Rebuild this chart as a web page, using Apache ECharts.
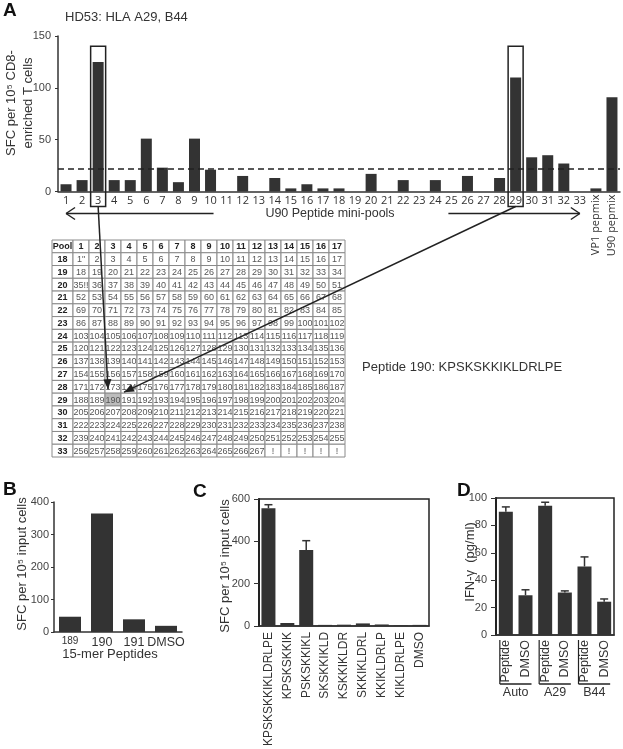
<!DOCTYPE html>
<html><head><meta charset="utf-8">
<script src="https://cdn.jsdelivr.net/npm/echarts@6/dist/echarts.min.js"></script>
<style>html,body{margin:0;padding:0;background:#fff}#c{width:623px;height:749px}</style>
</head><body><div id="c"></div>
<script>
// ---------- Panel A data ----------
const poolCategories = ['1','2','3','4','5','6','7','8','9','10','11','12','13','14','15','16','17','18','19','20','21','22','23','24','25','26','27','28','29','30','31','32','33','VP1 pepmix','U90 pepmix'];
const poolSFC = [7,11,125,11,11,51,23,9,51,21,0,15,0,13,3,7,3,3,0,17,0,11,0,11,0,15,0,13,110,33,35,27,0,3,91];
const thresholdSFC = 22;
const boxedPools = ['3','29'];
const boxTopSFC = 140;
const aTitle = 'HD53: HLA A29, B44';
const aYName = 'SFC per 10\u2075 CD8-\nenriched T cells';
const aXName = 'U90 Peptide mini-pools';
const aTicks = [0,50,100,150];

// ---------- Table (peptide matrix) ----------
const tableColumns = ['1','2','3','4','5','6','7','8','9','10','11','12','13','14','15','16','17'];
const tableRowNames = ['18','19','20','21','22','23','24','25','26','27','28','29','30','31','32','33'];
const tableRows = [
  '1" 2 3 4 5 6 7 8 9 10 11 12 13 14 15 16 17',
  '18 19 20 21 22 23 24 25 26 27 28 29 30 31 32 33 34',
  '35!! 36 37 38 39 40 41 42 43 44 45 46 47 48 49 50 51',
  '52 53 54 55 56 57 58 59 60 61 62 63 64 65 66 67 68',
  '69 70 71 72 73 74 75 76 77 78 79 80 81 82 83 84 85',
  '86 87 88 89 90 91 92 93 94 95 96 97 98 99 100 101 102',
  '103 104 105 106 107 108 109 110 111 112 113 114 115 116 117 118 119',
  '120 121 122 123 124 125 126 127 128 129 130 131 132 133 134 135 136',
  '137 138 139 140 141 142 143 144 145 146 147 148 149 150 151 152 153',
  '154 155 156 157 158 159 160 161 162 163 164 165 166 167 168 169 170',
  '171 172 173 174 175 176 177 178 179 180 181 182 183 184 185 186 187',
  '188 189 190 191 192 193 194 195 196 197 198 199 200 201 202 203 204',
  '205 206 207 208 209 210 211 212 213 214 215 216 217 218 219 220 221',
  '222 223 224 225 226 227 228 229 230 231 232 233 234 235 236 237 238',
  '239 240 241 242 243 244 245 246 247 248 249 250 251 252 253 254 255',
  '256 257 258 259 260 261 262 263 264 265 266 267 ! ! ! ! !'
];
const highlightPeptide = '190';
const peptideNote = 'Peptide 190: KPSKSKKIKLDRLPE';

// ---------- Panel B ----------
const bCategories = ['189','190','191','DMSO'];
const bSFC = [47,365,39,19];
const bTicks = [0,100,200,300,400];

// ---------- Panel C ----------
const cCategories = ['KPSKSKKIKLDRLPE','KPSKSKKIK','PSKSKKIKL','SKSKKIKLD','KSKKIKLDR','SKKIKLDRL','KKIKLDRLP','KIKLDRLPE','DMSO'];
const cSFC = [556,14,359,5,6,12,7,3,5];
const cErr = [17,0,44,0,0,0,0,0,0];
const cTicks = [0,200,400,600];

// ---------- Panel D ----------
const dConditions = ['Peptide','DMSO','Peptide','DMSO','Peptide','DMSO'];
const dGroups = ['Auto','Auto','A29','A29','B44','B44'];
const dIFN = [90,29,94.4,31,50,24.3];
const dErr = [3.5,4,2.5,1.2,7,2];
const dTicks = [0,20,40,60,80,100];

// ---------- build ----------
const FONT = '"Liberation Sans", Arial, sans-serif';
const INK = '#333';
const chart = echarts.init(document.getElementById('c'), null, {renderer:'canvas'});

const tableYCats = ['Pool'].concat(tableRowNames);
// pool column cells
const poolCells = [], poolData = [];
tableYCats.forEach((r) => { poolData.push(['Pool', r]); poolCells.push({text: r, bold: true}); });
// main cells
const mainCells = [], mainData = [];
tableColumns.forEach(c => { mainData.push([c, 'Pool']); mainCells.push({text: c, bold: true}); });
tableRows.forEach((rowStr, ri) => {
  rowStr.split(' ').forEach((t, ci) => {
    mainData.push([tableColumns[ci], tableRowNames[ri]]);
    mainCells.push({text: t, bold: false, hl: t === highlightPeptide});
  });
});
function cellRenderer(cells) {
  return function (params, api) {
    const c = api.coord([api.value(0), api.value(1)]);
    const s = api.size([1, 1]);
    const info = cells[params.dataIndex];
    return {type:'group', children:[
      {type:'rect', shape:{x:c[0]-s[0]/2, y:c[1]-s[1]/2, width:s[0], height:s[1]},
       style:{fill: info.hl ? '#bcbcbc' : '#fff', stroke:'#8a8a8a', lineWidth:1}},
      {type:'text', x:c[0], y:c[1]+0.5,
       style:{text: info.text, align:'center', verticalAlign:'middle', textAlign:'center', textVerticalAlign:'middle',
              fill: info.bold ? '#222' : '#555', font: (info.bold ? 'bold ' : '') + '9px ' + FONT}}
    ]};
  };
}
function errSeries(xi, yi, means, errs, cap) {
  return {type:'custom', xAxisIndex:xi, yAxisIndex:yi, z:1, silent:true,
    data: means.map((m, i) => [i, m, m + errs[i], errs[i]]),
    renderItem(params, api) {
      if (!api.value(3)) return null;
      const base = api.coord([api.value(0), api.value(1)]);
      const top = api.coord([api.value(0), api.value(2)]);
      return {type:'group', children:[
        {type:'line', shape:{x1:top[0], y1:base[1], x2:top[0], y2:top[1]}, style:{stroke:INK, lineWidth:1.5}},
        {type:'line', shape:{x1:top[0]-cap/2, y1:top[1], x2:top[0]+cap/2, y2:top[1]}, style:{stroke:INK, lineWidth:1.5}}
      ]};
    }};
}
const yLab = (m) => ({fontFamily:FONT, fontSize:11, color:'#444', margin:m});

const option = {
  animation:false,
  backgroundColor:'#fff',
  textStyle:{fontFamily:FONT},
  grid:[
    {left:58, top:36, width:562, height:155.5},                 // A
    {left:52, top:240, width:21, height:217},                   // table pool col
    {left:73, top:240, width:272, height:217},                  // table main
    {left:54, top:502, width:128, height:130},                  // B
    {left:259, top:499, width:170, height:137, show:true, borderColor:'#222', borderWidth:1.5, backgroundColor:'transparent'}, // C
    {left:496, top:498, width:118, height:137, show:true, borderColor:'#222', borderWidth:1.5, backgroundColor:'transparent'}  // D
  ],
  xAxis:[
    {type:'category', gridIndex:0, data:poolCategories,
     axisLine:{lineStyle:{color:INK, width:1.5}}, axisTick:{show:false},
     axisLabel:{interval:0, margin:4, fontFamily:'"Open Sans", sans-serif', fontSize:11, color:'#333',
                formatter:v => v.indexOf('pepmix') >= 0 ? '' : v}},
    {type:'category', gridIndex:0, data:poolCategories, position:'bottom',
     axisLine:{show:false}, axisTick:{show:false},
     axisLabel:{interval:0, rotate:90, margin:3, fontFamily:'"Open Sans", sans-serif', fontSize:11, color:'#333',
                formatter:v => v.indexOf('pepmix') >= 0 ? v : ''}},
    {type:'category', gridIndex:1, data:['Pool'], show:false},
    {type:'category', gridIndex:2, data:tableColumns, show:false},
    {type:'category', gridIndex:3, data:bCategories,
     axisLine:{lineStyle:{color:INK, width:1.5}}, axisTick:{show:false},
     axisLabel:{interval:0, margin:4, color:'#333', fontFamily:FONT,
       formatter:(v, i) => i === 0 ? '{s|' + v + '}' : '{n|' + v + '}',
       rich:{s:{fontSize:10, fontFamily:FONT, color:'#333', padding:[0,0,2,0]}, n:{fontSize:12.5, fontFamily:FONT, color:'#333'}}}},
    {type:'category', gridIndex:4, data:cCategories,
     axisLine:{lineStyle:{color:INK, width:1.5}}, axisTick:{show:false},
     axisLabel:{interval:0, rotate:90, margin:6, fontSize:12, fontFamily:FONT, color:'#333'}},
    {type:'category', gridIndex:5, data:dConditions.map((c, i) => dGroups[i] + '|' + c),
     axisLine:{lineStyle:{color:INK, width:1.5}}, axisTick:{show:false},
     axisLabel:{interval:0, rotate:90, margin:5, fontSize:12.5, fontFamily:FONT, color:'#333',
                formatter:v => v.split('|')[1]}}
  ],
  yAxis:[
    {type:'value', gridIndex:0, min:aTicks[0], max:aTicks[aTicks.length-1], interval:50,
     axisLine:{show:true, lineStyle:{color:INK, width:1.5}}, axisTick:{show:true, length:3, lineStyle:{color:INK}},
     splitLine:{show:false}, axisLabel:yLab(7)},
    {type:'category', gridIndex:1, data:tableYCats, inverse:true, show:false},
    {type:'category', gridIndex:2, data:tableYCats, inverse:true, show:false},
    {type:'value', gridIndex:3, min:bTicks[0], max:bTicks[bTicks.length-1], interval:100,
     axisLine:{show:true, lineStyle:{color:INK, width:1.5}}, axisTick:{show:true, length:3, lineStyle:{color:INK}},
     splitLine:{show:false}, axisLabel:yLab(5)},
    {type:'value', gridIndex:4, min:cTicks[0], max:cTicks[cTicks.length-1], interval:200,
     axisLine:{show:true, lineStyle:{color:'#222', width:2}}, axisTick:{show:true, length:5, lineStyle:{color:INK}},
     splitLine:{show:false}, axisLabel:yLab(9)},
    {type:'value', gridIndex:5, min:dTicks[0], max:dTicks[dTicks.length-1], interval:20,
     axisLine:{show:true, lineStyle:{color:'#222', width:2}}, axisTick:{show:true, length:5, lineStyle:{color:INK}},
     splitLine:{show:false}, axisLabel:yLab(9)}
  ],
  series:[
    {type:'bar', xAxisIndex:0, yAxisIndex:0, data:poolSFC, barWidth:11, itemStyle:{color:'#333'},
     markLine:{silent:true, symbol:'none', label:{show:false},
       lineStyle:{type:[6,4], color:'#222', width:1.5}, data:[{yAxis:thresholdSFC}]}},
    {type:'custom', xAxisIndex:2, yAxisIndex:1, data:poolData, renderItem:cellRenderer(poolCells), silent:true},
    {type:'custom', xAxisIndex:3, yAxisIndex:2, data:mainData, renderItem:cellRenderer(mainCells), silent:true},
    {type:'bar', xAxisIndex:4, yAxisIndex:3, data:bSFC, barWidth:22, itemStyle:{color:'#333'}},
    {type:'bar', xAxisIndex:5, yAxisIndex:4, data:cSFC, barWidth:14, itemStyle:{color:'#333'}, z:3},
    errSeries(5, 4, cSFC, cErr, 8),
    {type:'bar', xAxisIndex:6, yAxisIndex:5, data:dIFN, barWidth:14, itemStyle:{color:'#333'}, z:3},
    errSeries(6, 5, dIFN, dErr, 8)
  ]
};
chart.setOption(option);

// ---------- annotations positioned through the chart's own scales ----------
const pA = (cat, v) => chart.convertToPixel({xAxisIndex:0, yAxisIndex:0}, [poolCategories.indexOf(cat), v]);
const pT = (ci, ri) => chart.convertToPixel({xAxisIndex:3, yAxisIndex:2}, [ci, ri]);
const pD = (i, v) => chart.convertToPixel({xAxisIndex:6, yAxisIndex:5}, [i, v]);
const g = [];
const line = (x1, y1, x2, y2, w) => ({type:'line', shape:{x1, y1, x2, y2}, style:{stroke:'#222', lineWidth:w || 1.5}, z:100});
const text = (t, x, y, o) => ({type:'text', x, y, z:100, rotation:(o && o.rot) || 0,
  style:Object.assign({text:t, fill:'#333', font:'13px ' + FONT, align:'left', verticalAlign:'middle', textAlign:'left', textVerticalAlign:'middle'}, o && o.style)});
function headArrow(x1, y1, x2, y2, len, w) {
  const a = Math.atan2(y2 - y1, x2 - x1), c = Math.cos(a), s = Math.sin(a);
  return {type:'polygon', z:100, shape:{points:[[x2, y2], [x2 - len*c + w*s, y2 - len*s - w*c], [x2 - len*c - w*s, y2 - len*s + w*c]]},
          style:{fill:'#222'}};
}
const axisY = pA('1', 0)[1];
const boxBottom = axisY + 15;
boxedPools.forEach(p => {
  const t = pA(p, boxTopSFC);
  g.push({type:'rect', z:100, shape:{x:t[0]-7.5, y:t[1], width:15, height:boxBottom - t[1]},
          style:{fill:'none', stroke:'#222', lineWidth:1.5}});
});
// mini-pool arrows
const arrY = axisY + 22;
const l0 = pA('1', 0)[0], l1 = pA('10', 0)[0] + 3;
g.push(line(l0, arrY, l1, arrY), line(l0, arrY, l0 + 9, arrY - 6), line(l0, arrY, l0 + 9, arrY + 6));
const r0 = pA('25', 0)[0] - 3, r1 = pA('33', 0)[0];
g.push(line(r0, arrY, r1, arrY), line(r1, arrY, r1 - 9, arrY - 6), line(r1, arrY, r1 - 9, arrY + 6));
g.push(text(aXName, 330, arrY, {style:{align:'center', textAlign:'center', font:'12.5px ' + FONT}}));
// arrows from boxed pools to the peptide cell
let hr = 0, hc = 0;
tableRows.forEach((r, ri) => r.split(' ').forEach((t, ci) => { if (t === highlightPeptide) { hr = ri + 1; hc = ci; } }));
const cc = pT(hc, hr);
const cellLeft = cc[0] - 8, cellRight = cc[0] + 8, cellTop = cc[1] - 6.4;
const b3 = pA(boxedPools[0], 0)[0], b29 = pA(boxedPools[1], 0)[0];
const t1 = [cellLeft + 3, cellTop - 4], t2 = [cellRight + 3, cellTop - 1];
g.push(line(b3, boxBottom, t1[0], t1[1]), headArrow(b3, boxBottom, t1[0], t1[1], 10, 4));
g.push(line(b29, boxBottom, t2[0], t2[1]), headArrow(b29, boxBottom, t2[0], t2[1], 10, 4));
// texts
g.push(text('A', 3, 11, {style:{font:'bold 19px ' + FONT, fill:'#111'}}));
g.push(text('B', 3, 490, {style:{font:'bold 19px ' + FONT, fill:'#111'}}));
g.push(text('C', 193, 492, {style:{font:'bold 19px ' + FONT, fill:'#111'}}));
g.push(text('D', 457, 491, {style:{font:'bold 19px ' + FONT, fill:'#111'}}));
g.push(text(aTitle, 65, 17, {style:{font:'13px ' + FONT}}));
g.push(text(aYName, 20, 103, {rot:Math.PI/2, style:{align:'center', textAlign:'center', font:'13px ' + FONT, lineHeight:17}}));
g.push(text(peptideNote, 362, 367, {style:{font:'13px ' + FONT}}));
g.push(text('SFC per 10\u2075 input cells', 22, 564, {rot:Math.PI/2, style:{align:'center', textAlign:'center', font:'13px ' + FONT}}));
g.push(text('15-mer Peptides', 110, 654, {style:{align:'center', textAlign:'center', font:'13px ' + FONT}}));
g.push(text('SFC per 10\u2075 input cells', 225, 566, {rot:Math.PI/2, style:{align:'center', textAlign:'center', font:'13px ' + FONT}}));
g.push(text('IFN-\u03b3  (pg/ml)', 470, 562, {rot:Math.PI/2, style:{align:'center', textAlign:'center', font:'13px ' + FONT}}));
// D group brackets
const dAxisY = pD(0, 0)[1];
for (let i = 0; i < dGroups.length; i += 2) {
  const xa = pD(i, 0)[0], xb = pD(i + 1, 0)[0];
  g.push(line(xa - 6, dAxisY + 5, xa - 6, dAxisY + 49, 1.2));
  g.push(line(xa - 6, dAxisY + 49, xb + 6, dAxisY + 49, 1.5));
  g.push(text(dGroups[i], (xa + xb) / 2, dAxisY + 58, {style:{align:'center', textAlign:'center', font:'12.5px ' + FONT}}));
}
chart.setOption({graphic:{elements:g}});
</script>
</body></html>
